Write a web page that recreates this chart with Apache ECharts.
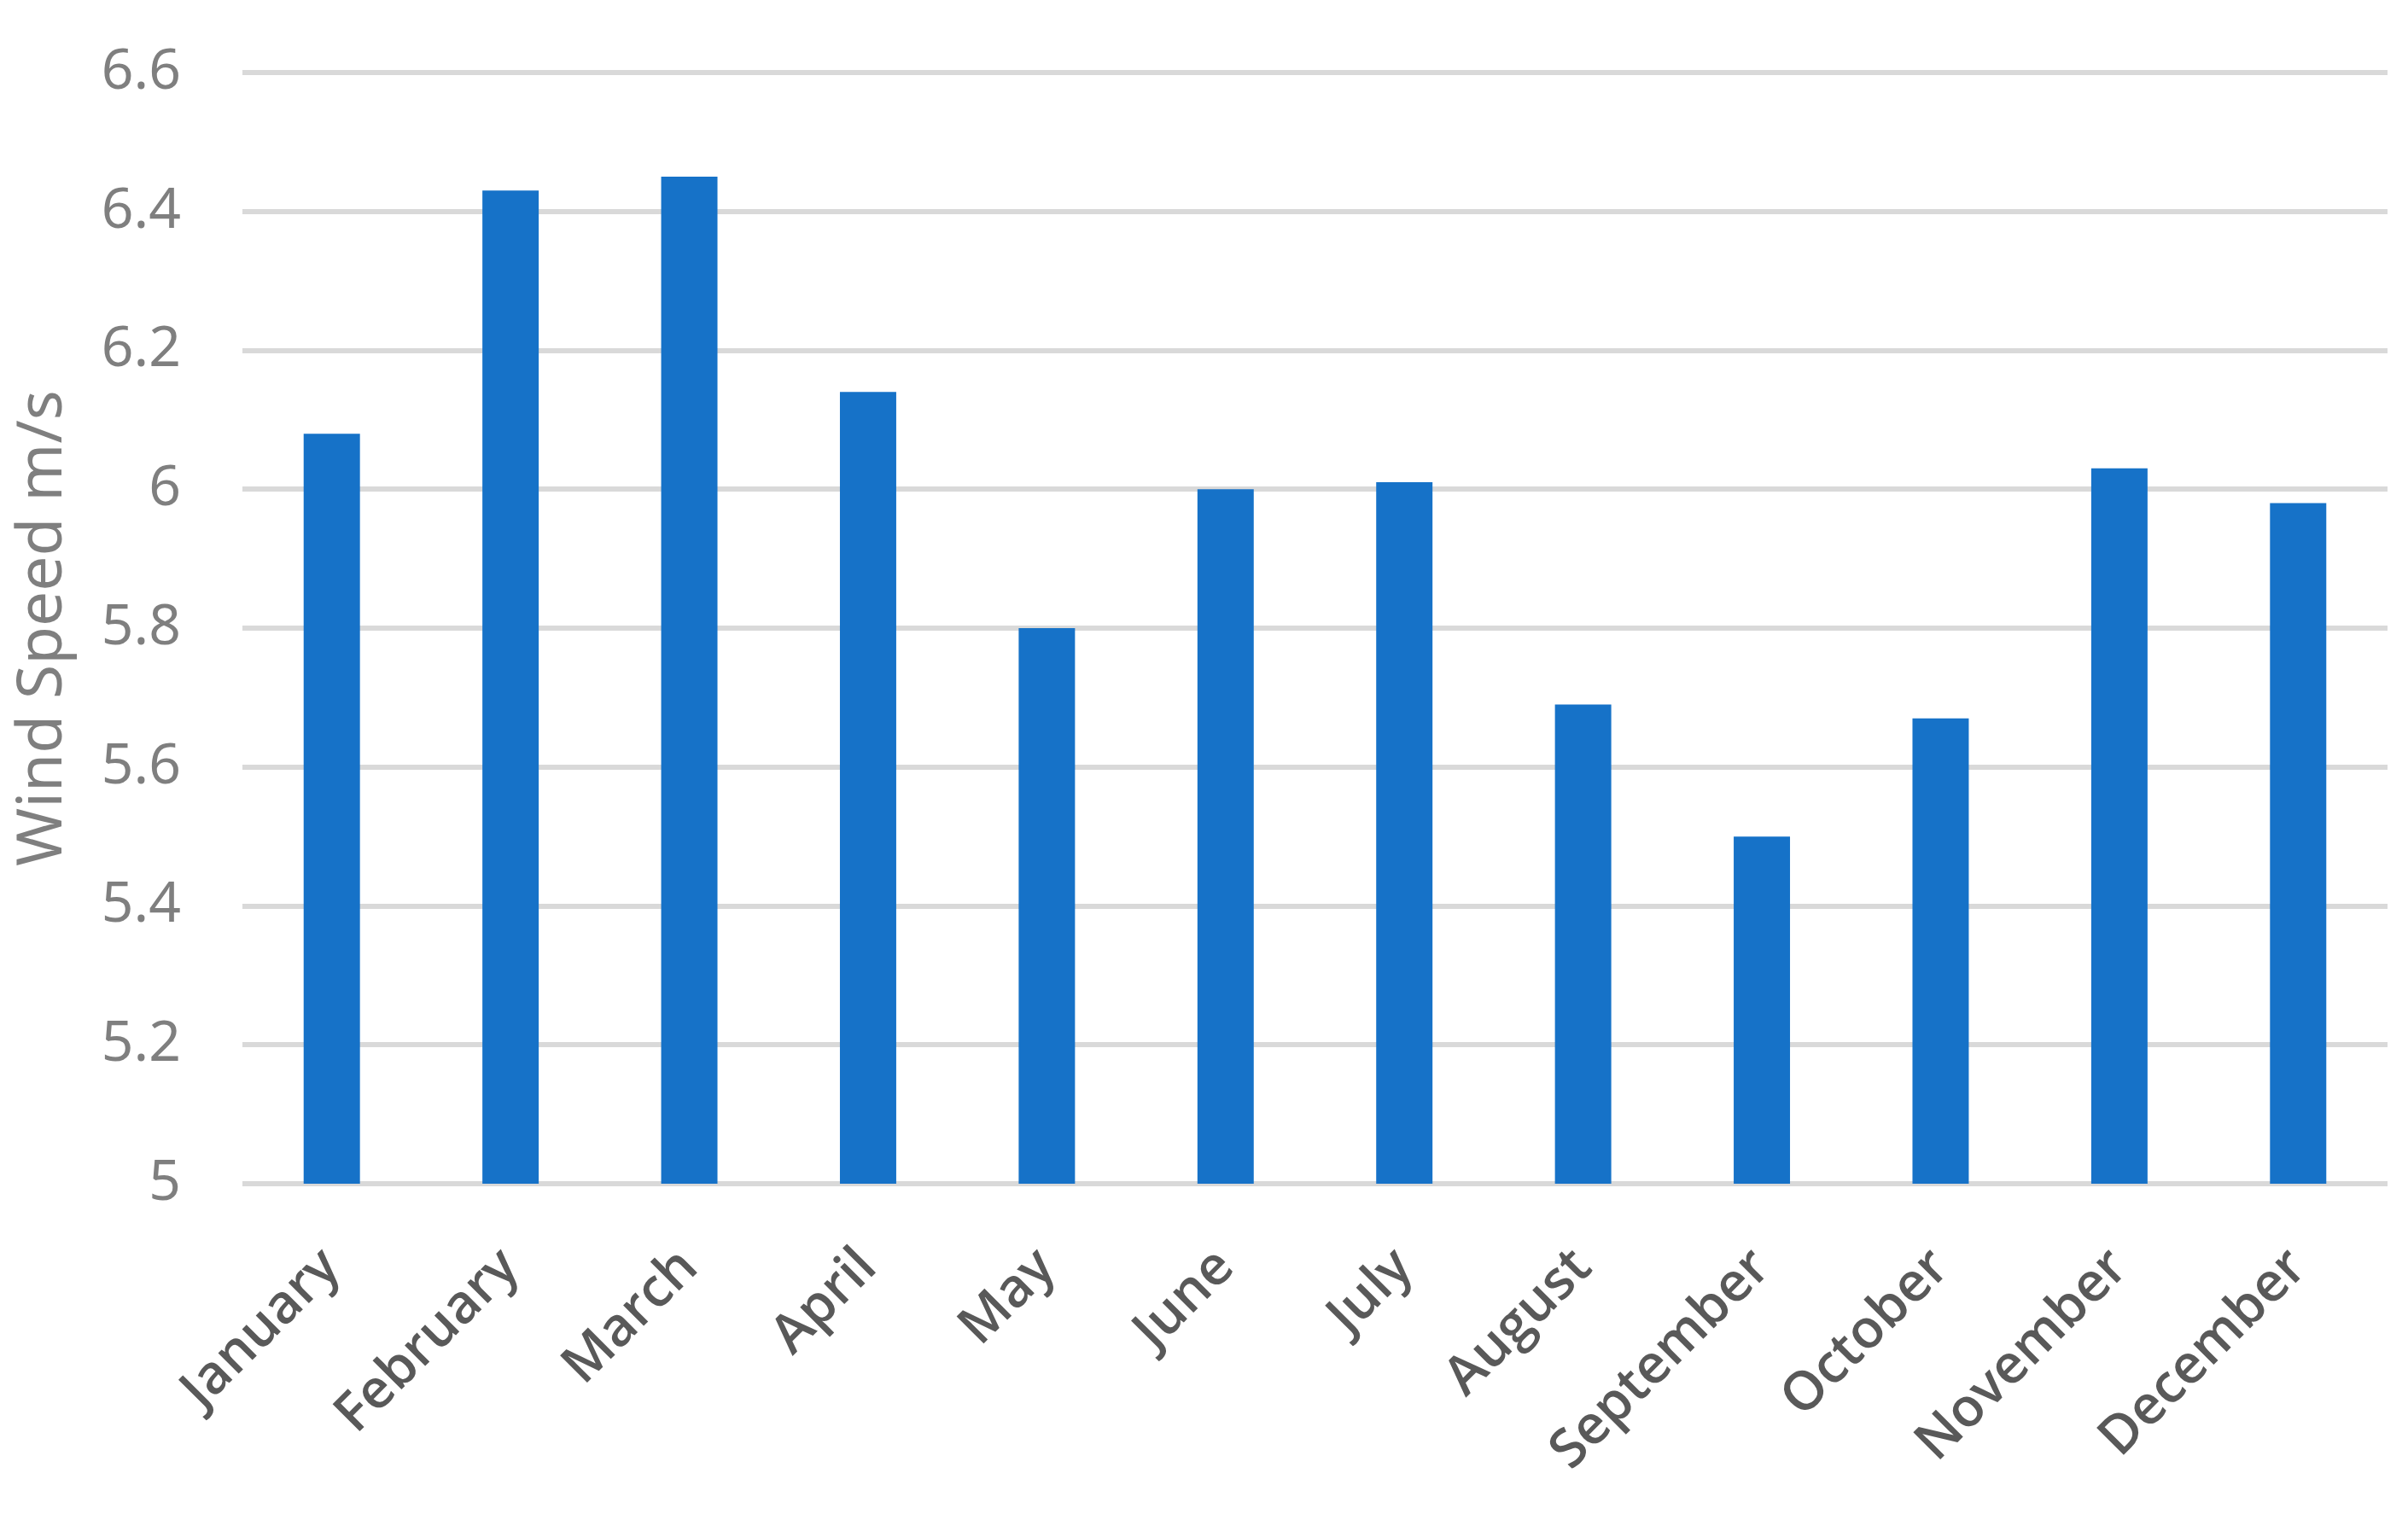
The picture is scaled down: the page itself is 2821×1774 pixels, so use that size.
<!DOCTYPE html>
<html>
<head>
<meta charset="utf-8">
<script src="https://cdn.jsdelivr.net/npm/echarts@6/dist/echarts.min.js"></script>
<style>
  html, body { margin: 0; padding: 0; background: #fff; }
  #main { width: 2821px; height: 1774px; }
</style>
</head>
<body>
<div id="main"></div>
<script>
// monthly mean wind speed
const months = ['January', 'February', 'March', 'April', 'May', 'June', 'July', 'August', 'September', 'October', 'November', 'December'];
const windSpeed = [6.08, 6.43, 6.45, 6.14, 5.80, 6.00, 6.01, 5.69, 5.50, 5.67, 6.03, 5.98];

const chart = echarts.init(document.getElementById('main'));

chart.setOption({
    animation: false,
    grid: {
        left: 284,
        right: 24,
        top: 85,
        bottom: 387,
        containLabel: false,
        outerBoundsMode: 'none'
    },
    xAxis: {
        type: 'category',
        data: months,
        axisLine: { show: false },
        axisTick: { show: false },
        axisLabel: {
            interval: 0,
            rotate: 45,
            margin: 88,
            color: '#595959',
            fontSize: 63,
            fontWeight: 600,
            fontFamily: 'Open Sans'
        }
    },
    yAxis: {
        type: 'value',
        min: 5,
        max: 6.6,
        interval: 0.2,
        name: 'Wind Speed m/s',
        nameLocation: 'middle',
        nameGap: 196,
        nameTextStyle: {
            color: '#7f7f7f',
            fontSize: 73,
            fontFamily: 'Noto Sans'
        },
        axisLine: { show: false },
        axisTick: { show: false },
        axisLabel: {
            margin: 72,
            color: '#7f7f7f',
            fontSize: 66,
            fontFamily: 'Noto Sans'
        },
        splitLine: {
            lineStyle: { color: '#d9d9d9', width: 6 }
        }
    },
    series: [
        {
            type: 'bar',
            data: windSpeed,
            barWidth: '31.5%',
            itemStyle: { color: '#1672c8' }
        }
    ]
});
</script>
</body>
</html>
